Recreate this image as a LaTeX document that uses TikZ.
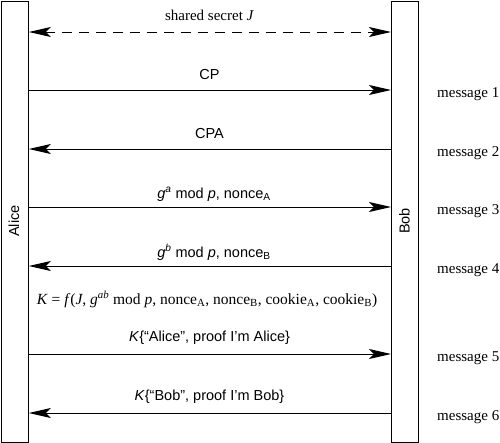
\documentclass[tikz,border=0pt]{standalone}
\usepackage{fontspec}
\setmainfont{Liberation Serif}
\setsansfont{Liberation Sans}
\usetikzlibrary{arrows.meta}
\begin{document}
\begin{tikzpicture}[x=1pt,y=-1pt,
  lane/.style={draw,line width=1.2pt},
  msg/.style={line width=1pt,-{Stealth[length=22pt,width=10pt,inset=5pt]}},
  lbl/.style={font=\sffamily\fontsize{14.5}{16}\selectfont,anchor=base,inner sep=0pt},
  side/.style={font=\fontsize{15}{17}\selectfont,anchor=base west,inner sep=0pt}]
\useasboundingbox (0,0) rectangle (500,442);
\node[lane,minimum width=27pt,minimum height=441pt,inner sep=0pt,anchor=north west] (alice) at (0.6,0.6) {};
\node[lane,minimum width=27pt,minimum height=441pt,inner sep=0pt,anchor=north west] (bob) at (391,0.6) {};
\node[rotate=90,font=\sffamily\fontsize{14.5}{16}\selectfont] (alicet) at (14,221) {Alice};
\node[rotate=90,font=\sffamily\fontsize{14.5}{16}\selectfont] (bobt) at (404.5,221) {Bob};
% coordinates on the boxes
\foreach \n/\y in {s/32,m1/90,m2/149,m3/207,m4/266,m5/354,m6/413}{
  \coordinate (a\n) at (alice.east |- 0,\y);
  \coordinate (b\n) at (bob.west |- 0,\y);
}
\draw[line width=1pt,dash pattern=on 10pt off 7pt,{Stealth[length=22pt,width=10pt,inset=5pt]}-{Stealth[length=22pt,width=10pt,inset=5pt]}] (as) -- (bs);
\draw[msg] (am1) -- (bm1);
\draw[msg] (bm2) -- (am2);
\draw[msg] (am3) -- (bm3);
\draw[msg] (bm4) -- (am4);
\draw[msg] (am5) -- (bm5);
\draw[msg] (bm6) -- (am6);
\node[font=\fontsize{15}{17}\selectfont,anchor=base,inner sep=0pt] (ls) at (209.5,20) {shared secret \textit{J}};
\node[lbl] (l1) at (209.5,79) {CP};
\node[lbl] (l2) at (209.5,138) {CPA};
\node[lbl] (l3) at (214,198) {\textit{g}\textsuperscript{\textit{a}} mod \textit{p}, nonce\textsubscript{A}};
\node[lbl] (l4) at (214,257) {\textit{g}\textsuperscript{\textit{b}} mod \textit{p}, nonce\textsubscript{B}};
\node[font=\fontsize{15.5}{18}\selectfont,anchor=base,inner sep=0pt] (lk) at (207,304) {\textit{K} = \textit{f}(\textit{J}, \textit{g}\textsuperscript{\textit{ab}} mod \textit{p}, nonce\textsubscript{A}, nonce\textsubscript{B}, cookie\textsubscript{A}, cookie\textsubscript{B})};
\node[lbl] (l5) at (209.5,341) {\textit{K}\{“Alice”, proof I’m Alice\}};
\node[lbl] (l6) at (209.5,400) {\textit{K}\{“Bob”, proof I’m Bob\}};
\node[side] (s1) at (437,97) {message 1};
\node[side] (s2) at (437,156) {message 2};
\node[side] (s3) at (437,214) {message 3};
\node[side] (s4) at (437,273) {message 4};
\node[side] (s5) at (437,361) {message 5};
\node[side] (s6) at (437,420) {message 6};
\end{tikzpicture}
\end{document}
